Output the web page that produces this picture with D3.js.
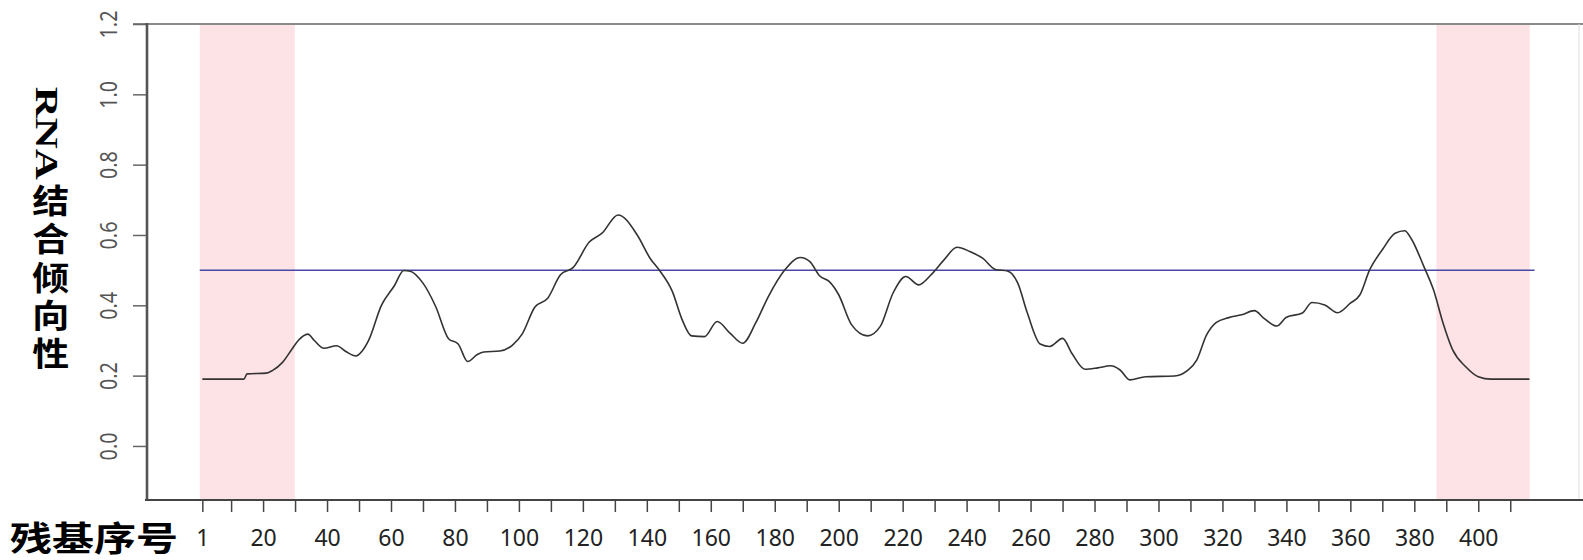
<!DOCTYPE html>
<html>
<head>
<meta charset="utf-8">
<script src="https://cdn.jsdelivr.net/npm/d3@7"></script>
<style>
  html, body { margin: 0; padding: 0; background: #fff; }
  svg { display: block; }
</style>
</head>
<body>
<svg id="chart" width="1583" height="560"></svg>
<script>
// ---- data ----
const residues = [1, 14, 15, 21, 23, 26, 29, 31, 34, 36, 39, 43, 46, 49, 51, 53, 57, 61, 64, 66, 70, 74, 78, 81, 84, 87, 89, 94, 98, 101, 105, 109, 113, 117, 122, 126, 131, 137, 141, 144, 148, 151, 154, 158, 162, 166, 170, 174, 178, 183, 188, 191, 194, 197, 200, 204, 209, 213, 217, 221, 225, 229, 233, 237, 241, 245, 249, 253, 256, 259, 263, 266, 270, 273, 277, 281, 285, 288, 291, 296, 305, 309, 312, 315, 318, 322, 326, 330, 333, 337, 340, 345, 348, 352, 356, 360, 363, 366, 370, 374, 377, 379, 383, 386, 389, 392, 396, 400, 404, 416];
const propensity = [0.190, 0.190, 0.205, 0.207, 0.215, 0.237, 0.275, 0.300, 0.318, 0.300, 0.278, 0.285, 0.268, 0.256, 0.270, 0.300, 0.400, 0.455, 0.499, 0.497, 0.463, 0.396, 0.305, 0.290, 0.240, 0.260, 0.267, 0.270, 0.287, 0.318, 0.395, 0.420, 0.487, 0.508, 0.580, 0.605, 0.657, 0.600, 0.534, 0.499, 0.439, 0.360, 0.313, 0.311, 0.354, 0.321, 0.292, 0.349, 0.425, 0.499, 0.536, 0.524, 0.484, 0.468, 0.430, 0.345, 0.313, 0.340, 0.435, 0.482, 0.458, 0.488, 0.530, 0.565, 0.553, 0.534, 0.502, 0.497, 0.463, 0.378, 0.290, 0.283, 0.306, 0.262, 0.218, 0.222, 0.228, 0.216, 0.188, 0.197, 0.199, 0.214, 0.245, 0.315, 0.351, 0.365, 0.373, 0.385, 0.363, 0.341, 0.366, 0.378, 0.408, 0.401, 0.379, 0.406, 0.430, 0.500, 0.558, 0.605, 0.612, 0.590, 0.510, 0.444, 0.349, 0.273, 0.226, 0.197, 0.190, 0.190];
const bandStarts = [0.2, 386.9];
const bandEnds = [29.9, 416.1];
const threshold = 0.5;
const thresholdSpan = [0.2, 417.6];
const xTicks = [1, 10, 20, 30, 40, 50, 60, 70, 80, 90, 100, 110, 120, 130, 140, 150, 160, 170, 180, 190, 200, 210, 220, 230, 240, 250, 260, 270, 280, 290, 300, 310, 320, 330, 340, 350, 360, 370, 380, 390, 400, 410];
const xTickLabels = ["1", "", "20", "", "40", "", "60", "", "80", "", "100", "", "120", "", "140", "", "160", "", "180", "", "200", "", "220", "", "240", "", "260", "", "280", "", "300", "", "320", "", "340", "", "360", "", "380", "", "400", ""];
const yTicks = [0.0, 0.2, 0.4, 0.6, 0.8, 1.0, 1.2];
const yTitleLatin = "RNA";
const yTitleCJK = "结合倾向性";
const xTitle = "残基序号";

// ---- layout ----
const svg = d3.select("#chart");
const plotLeft = 147, plotRight = 1579, plotTop = 24, plotBottom = 500;

const x = d3.scaleLinear().domain([-16.3, 431.5]).range([plotLeft, plotRight]);
const y = d3.scaleLinear().domain([-0.1537, 1.2]).range([plotBottom, plotTop]);

// pink bands
svg.append("g").selectAll("rect")
  .data(bandStarts.map((s, i) => [s, bandEnds[i]]))
  .join("rect")
  .attr("x", d => x(d[0]))
  .attr("width", d => x(d[1]) - x(d[0]))
  .attr("y", plotTop)
  .attr("height", plotBottom - plotTop)
  .attr("fill", "#fde2e6");

// frame: top & right lines
svg.append("line").attr("x1", 133).attr("x2", 1583).attr("y1", y(1.2)).attr("y2", y(1.2))
  .attr("stroke", "#8a8a8a").attr("stroke-width", 2);
svg.append("line").attr("x1", plotRight).attr("x2", plotRight).attr("y1", plotTop).attr("y2", plotBottom)
  .attr("stroke", "#dddddd").attr("stroke-width", 1);

// threshold line
svg.append("line")
  .attr("x1", x(thresholdSpan[0])).attr("x2", x(thresholdSpan[1]))
  .attr("y1", y(threshold)).attr("y2", y(threshold))
  .attr("stroke", "#4a48a6").attr("stroke-width", 1.5);

// propensity curve
const pts = residues.map((r, i) => [r, propensity[i]]);
const line = d3.line().x(d => x(d[0])).y(d => y(d[1])).curve(d3.curveMonotoneX);
svg.append("path").datum(pts).attr("d", line)
  .attr("fill", "none").attr("stroke", "#333").attr("stroke-width", 1.6);

// y axis
const yAxis = d3.axisLeft(y).tickValues(yTicks).tickSize(14).tickFormat(d3.format(".1f"));
const gy = svg.append("g").attr("transform", `translate(${plotLeft},0)`).call(yAxis);
gy.select(".domain").remove();
gy.selectAll(".tick line").attr("stroke", "#666").attr("stroke-width", 1.5);
gy.selectAll(".tick text")
  .attr("x", null).attr("dy", null)
  .attr("text-anchor", "middle")
  .attr("transform", "translate(-30,0) rotate(-90) scale(0.86,1)")
  .attr("fill", "#555")
  .style("font-family", "'Noto Sans', sans-serif")
  .style("font-size", "23px");
svg.append("line").attr("x1", plotLeft).attr("x2", plotLeft).attr("y1", plotTop - 1).attr("y2", plotBottom + 1)
  .attr("stroke", "#555").attr("stroke-width", 2.6);

// x axis
const xAxis = d3.axisBottom(x).tickValues(xTicks).tickSize(12).tickPadding(18)
  .tickFormat((d, i) => xTickLabels[i]);
const gx = svg.append("g").attr("transform", `translate(0,${plotBottom})`).call(xAxis);
gx.select(".domain").remove();
gx.selectAll(".tick line").attr("stroke", "#444").attr("stroke-width", 1.5);
gx.selectAll(".tick text")
  .attr("fill", "#222")
  .style("font-family", "'Noto Sans', sans-serif")
  .style("font-size", "23px");
svg.append("line").attr("x1", 145).attr("x2", 1583).attr("y1", plotBottom).attr("y2", plotBottom)
  .attr("stroke", "#444").attr("stroke-width", 2);

// y title: Latin part rotated, CJK part set vertically
svg.append("text")
  .attr("transform", "translate(36,86.7) rotate(90)")
  .attr("textLength", 93).attr("lengthAdjust", "spacingAndGlyphs")
  .style("font-family", "'Liberation Serif', serif").style("font-weight", "bold")
  .style("font-size", "32px").attr("fill", "#000")
  .text(yTitleLatin);
svg.append("text")
  .attr("transform", "translate(50.8,0) scale(1,0.88)")
  .attr("x", 0).attr("y", 209.7)
  .style("writing-mode", "vertical-rl")
  .style("letter-spacing", "6.5px")
  .style("font-family", "'Noto Sans CJK SC', sans-serif").style("font-weight", "bold")
  .style("font-size", "37px").attr("fill", "#000")
  .text(yTitleCJK);

// x title
svg.append("text")
  .attr("transform", "translate(10,536) scale(1,0.8)")
  .attr("dominant-baseline", "central")
  .style("font-family", "'Noto Sans CJK SC', sans-serif").style("font-weight", "bold")
  .style("font-size", "42px").attr("fill", "#000")
  .text(xTitle);
</script>
</body>
</html>
